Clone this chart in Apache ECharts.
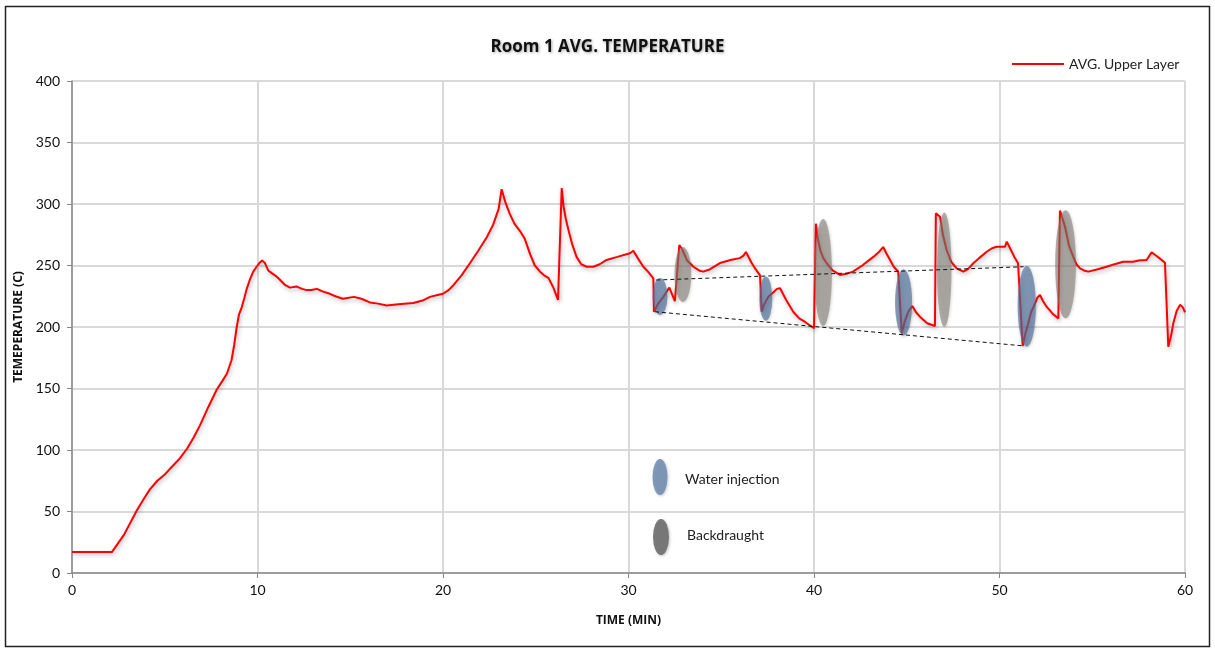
<!DOCTYPE html>
<html>
<head>
<meta charset="utf-8">
<script src="https://cdn.jsdelivr.net/npm/echarts@6/dist/echarts.min.js"></script>
<style>
html,body{margin:0;padding:0;background:#fff;}
#chart{width:1215px;height:650px;}
</style>
</head>
<body>
<div id="chart"></div>
<script>
// ---- data ----
const timeMin = [0,2.15,2.8,3.5,3.9,4.2,4.6,5.0,5.3,5.8,6.2,6.55,6.9,7.35,7.8,8.1,8.35,8.6,8.75,8.88,9.0,9.15,9.3,9.42,9.6,9.77,9.95,10.1,10.25,10.4,10.58,10.75,10.94,11.1,11.3,11.5,11.75,12.1,12.4,12.65,12.9,13.2,13.5,13.9,14.2,14.6,15.2,15.6,16.06,16.5,16.96,17.6,18.4,18.9,19.3,19.7,20.0,20.3,20.56,21.0,21.46,21.9,22.36,22.7,23.0,23.16,23.35,23.6,23.85,24.15,24.4,24.7,24.95,25.23,25.45,25.68,25.95,26.2,26.4,26.5,26.62,26.76,26.95,27.2,27.45,27.75,28.1,28.45,28.82,29.4,30.08,30.26,30.5,30.8,31.05,31.34,31.37,31.6,31.88,32.2,32.5,32.74,32.9,33.14,33.5,33.8,34.03,34.4,34.93,35.5,36.0,36.2,36.33,36.64,36.85,37.09,37.18,37.3,37.54,37.8,38.0,38.17,38.5,38.88,39.2,39.5,39.8,40.0,40.1,40.2,40.35,40.5,40.68,41.0,41.4,41.7,42.1,42.6,43.2,43.5,43.73,43.9,44.1,44.3,44.54,44.73,44.9,45.1,45.3,45.5,45.71,46.1,46.52,46.57,46.79,46.95,47.15,47.4,47.69,48.05,48.3,48.59,48.9,49.31,49.6,49.85,50.1,50.3,50.39,50.57,50.8,51.0,51.1,51.25,51.4,51.55,51.7,51.91,52.05,52.18,52.35,52.54,52.85,53.17,53.26,53.4,53.53,53.75,53.98,54.15,54.34,54.55,54.79,55.3,55.77,56.2,56.67,57.2,57.5,57.93,58.2,58.47,58.7,58.92,59.1,59.25,59.37,59.55,59.73,59.88,60];
const tempC = [17,17,31,51,61,68,75,80,85,93,101,110,120,135,149,156,162,173,186,200,210,216,224,231,239,245,249,252,254,252,246,244,242,240,237,234,232,233,231,230,230,231,229,227,225,223,224.5,223,220,219,217.5,218.5,219.5,221.5,224.5,226,227,230,234,242,252,262,273,283,296,312,302,292,284,278,272,259,250,245,242,240,232,222,313,298,288,279,268,257,251,249,249,251,254.5,257,260,262,256,249,245,239.6,212.4,219,224.6,232,221,266.7,263,254.5,249,246,245,247,252,254.5,256,258,261,252,247,242,212.4,218,224.6,228,231,231.5,222,212.4,207,204.3,201,199,284,272,262,256,252,246,242.3,243,245,250,257,261,265,260,254.5,249,245,195,205,213,217,212,208.4,203,200.8,292.4,289.7,275,262.6,253,247.7,245,247,251.8,256,261.2,264,265.3,265.3,265.3,269.4,264,257,251.8,250.4,184.6,195,203,212,219,224,226,221,216.5,211,207,294.6,288,281.5,266,257,251,247.7,246,245,247,249,251,253,253,254,254.5,260.7,257.7,255,252.3,184,193,203,213,218,216,212];
// ellipse annotations: [centre time, low temp, high temp, width (min)]
const waterInjection = [[31.7,209.8,239.8,0.8],[37.4,205,241,0.7],[44.83,193,247,0.92],[51.47,184,249.8,0.98]];
const backdraught = [[32.93,220.3,265,0.9],[40.49,200.8,287.8,0.95],[47.02,200.2,293,0.78],[53.56,207,295,1.12]];
const upperTrend = [[31.5,238.2],[51.3,249]];
const lowerTrend = [[31.43,212.4],[51.3,184.6]];
const xTicks = {min:0,max:60,interval:10};
const yTicks = {min:0,max:400,interval:50};
const seriesName = 'AVG. Upper Layer';
const titleText = 'Room 1 AVG. TEMPERATURE';
const xName = 'TIME (MIN)';
const yName = 'TEMEPERATURE (C)';
const markerLabels = ['Water injection','Backdraught'];

const FONT = 'Lato, "Open Sans", sans-serif';
const BOLDFONT = '"Open Sans", Lato, sans-serif';
const chart = echarts.init(document.getElementById('chart'));

function ellipseRenderer(fill){
  return function(params, api){
    const t = api.value(0), lo = api.value(1), hi = api.value(2), w = api.value(3);
    const top = api.coord([t, hi]);
    const bot = api.coord([t, lo]);
    const l = api.coord([t - w/2, lo]);
    const r = api.coord([t + w/2, lo]);
    const ry = (bot[1] - top[1]) / 2;
    const rx = (r[0] - l[0]) / 2;
    return {
      type: 'circle',
      x: top[0], y: (top[1] + bot[1]) / 2,
      scaleX: rx / ry,
      shape: {cx: 0, cy: 0, r: ry},
      style: {fill: fill, shadowBlur: 3, shadowColor: 'rgba(0,0,0,0.25)', shadowOffsetX: 1, shadowOffsetY: 1}
    };
  };
}

const lineData = timeMin.map((t, i) => [t, tempC[i]]);

chart.setOption({
  backgroundColor: '#fff',
  animation: false,
  title: {
    text: titleText, left: 'center', top: 34,
    textStyle: {fontFamily: BOLDFONT, fontSize: 17, fontWeight: 'bold', color: '#111',
      textShadowColor: 'rgba(0,0,0,0.35)', textShadowBlur: 3, textShadowOffsetX: 1, textShadowOffsetY: 1}
  },
  legend: {
    data: [{name: seriesName, icon: 'rect'}],
    left: 1007, top: 52,
    itemWidth: 52, itemHeight: 2,
    textStyle: {fontFamily: FONT, fontSize: 14, color: '#222'}
  },
  grid: {left: 72, right: 30, top: 81, bottom: 77},
  xAxis: {
    type: 'value', min: xTicks.min, max: xTicks.max, interval: xTicks.interval,
    name: xName, nameLocation: 'middle', nameGap: 42,
    nameTextStyle: {fontFamily: BOLDFONT, fontSize: 12, fontWeight: 'bold', color: '#111'},
    axisLine: {show: true, lineStyle: {color: '#888', width: 1.5}},
    axisTick: {show: true, length: 5, lineStyle: {color: '#888'}},
    axisLabel: {fontFamily: FONT, fontSize: 14, color: '#111', margin: 10},
    splitLine: {show: true, lineStyle: {color: '#d9d9d9', width: 2}}
  },
  yAxis: {
    type: 'value', min: yTicks.min, max: yTicks.max, interval: yTicks.interval,
    name: yName, nameLocation: 'middle', nameGap: 44, nameRotate: 90,
    nameTextStyle: {fontFamily: BOLDFONT, fontSize: 12, fontWeight: 'bold', color: '#111'},
    axisLine: {show: true, lineStyle: {color: '#888', width: 1.5}},
    axisTick: {show: true, length: 5, lineStyle: {color: '#888'}},
    axisLabel: {fontFamily: FONT, fontSize: 14, color: '#111', margin: 12},
    splitLine: {show: true, lineStyle: {color: '#d9d9d9', width: 2}}
  },
  series: [
    {
      name: seriesName, type: 'line', data: lineData, showSymbol: false, symbol: 'none',
      color: '#ff0000',
      lineStyle: {color: '#ff0000', width: 2, shadowColor: 'rgba(0,0,0,0.3)', shadowBlur: 4, shadowOffsetX: 1, shadowOffsetY: 2},
      z: 2
    },
    {
      name: markerLabels[0], type: 'custom', data: waterInjection,
      encode: {x: 0, y: [1, 2]},
      renderItem: ellipseRenderer('rgba(80,112,156,0.66)'), z: 3, silent: true
    },
    {
      name: markerLabels[1], type: 'custom', data: backdraught,
      encode: {x: 0, y: [1, 2]},
      renderItem: ellipseRenderer('rgba(130,122,116,0.58)'), z: 3, silent: true
    },
    {
      name: 'upperTrend', type: 'line', data: upperTrend, symbol: 'none',
      lineStyle: {color: '#111', width: 1, type: [4, 3]}, z: 4, silent: true
    },
    {
      name: 'lowerTrend', type: 'line', data: lowerTrend, symbol: 'none',
      lineStyle: {color: '#111', width: 1, type: [4, 3]}, z: 4, silent: true
    }
  ],
  graphic: [
    {type: 'rect', shape: {x: 5.5, y: 6.5, width: 1204, height: 640}, style: {fill: 'none', stroke: '#222', lineWidth: 1.5}, z: 100, silent: true},
    {type: 'circle', x: 660, y: 477, scaleX: 7.5/18, shape: {cx: 0, cy: 0, r: 18},
      style: {fill: 'rgba(110,140,178,0.85)', shadowBlur: 3, shadowColor: 'rgba(0,0,0,0.25)', shadowOffsetX: 1, shadowOffsetY: 1}, z: 50},
    {type: 'text', x: 685, y: 479, style: {text: markerLabels[0], fontFamily: FONT, fontSize: 14, fill: '#222', verticalAlign: 'middle'}, z: 50},
    {type: 'circle', x: 661, y: 537, scaleX: 8/18, shape: {cx: 0, cy: 0, r: 18},
      style: {fill: 'rgba(112,112,112,0.92)', shadowBlur: 3, shadowColor: 'rgba(0,0,0,0.25)', shadowOffsetX: 1, shadowOffsetY: 1}, z: 50},
    {type: 'text', x: 687, y: 535, style: {text: markerLabels[1], fontFamily: FONT, fontSize: 14, fill: '#222', verticalAlign: 'middle'}, z: 50}
  ]
});
</script>
</body>
</html>
